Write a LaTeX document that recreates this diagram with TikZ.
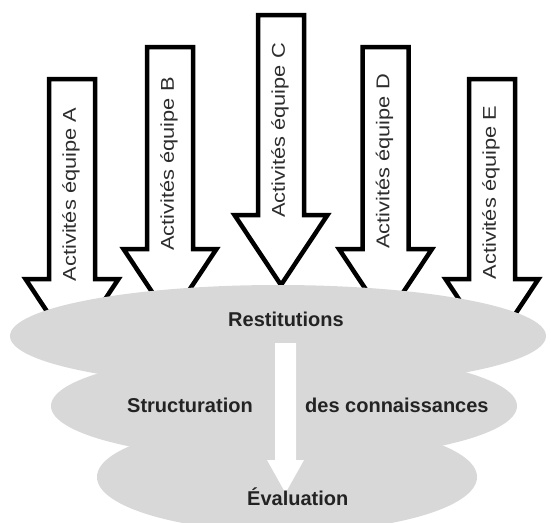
\documentclass[tikz,border=0pt]{standalone}
\usepackage{fontspec}
\setmainfont{Liberation Sans}
\definecolor{cloud}{RGB}{216,216,216}
\definecolor{labelgray}{RGB}{45,45,45}
\definecolor{textdark}{RGB}{35,35,35}
\tikzset{
  teamarrow/.style={draw=black, fill=white, line width=4.5pt, line join=miter, miter limit=10},
  cloudpart/.style={fill=cloud, draw=none},
  flowarrow/.style={fill=white, draw=none},
  teamlabel/.style={rotate=90, text=labelgray, inner sep=0pt, font=\fontsize{18.5}{20}\selectfont},
  cloudtext/.style={text=textdark, inner sep=0pt, font=\bfseries\fontsize{20}{22}\selectfont},
}
% #1 centre x, #2 top, #3 shoulder, #4 tip
\newcommand\teamarrowpath[4]{%
  \draw[teamarrow] (#1-23,#2) -- (#1+23,#2) -- (#1+23,#3) -- (#1+46.5,#3)
    -- (#1,#4) -- (#1-46.5,#3) -- (#1-23,#3) -- cycle;}
\begin{document}
\begin{tikzpicture}[x=1pt,y=-1pt]
\useasboundingbox (0,0) rectangle (551,522);
% team arrows
\teamarrowpath{72}{79}{279}{349}
\teamarrowpath{170}{47}{249}{319}
\teamarrowpath{281}{15}{215}{285}
\teamarrowpath{385.5}{47}{249}{319}
\teamarrowpath{492}{79}{279}{349}
\node[teamlabel] (labA) at (71,194.5) {\scalebox{1.18}[1]{Activités équipe A}};
\node[teamlabel] (labB) at (169,164) {\scalebox{1.18}[1]{Activités équipe B}};
\node[teamlabel] (labC) at (280,130.5) {\scalebox{1.18}[1]{Activités équipe C}};
\node[teamlabel] (labD) at (384.5,161.5) {\scalebox{1.18}[1]{Activités équipe D}};
\node[teamlabel] (labE) at (491,192.5) {\scalebox{1.18}[1]{Activités équipe E}};
% cloud
\begin{scope}
  \clip (0,0) rectangle (551,522);
  \fill[cloudpart] (278,336) ellipse [x radius=268pt, y radius=51pt];
  \fill[cloudpart] (284,406) ellipse [x radius=233pt, y radius=54pt];
  \fill[cloudpart] (287,477) ellipse [x radius=190pt, y radius=55pt];
\end{scope}
% inner flow arrow
\fill[flowarrow] (275,343) -- (296,343) -- (296,460) -- (304,460) -- (285.5,493)
  -- (267,460) -- (275,460) -- cycle;
% cloud texts
\node[cloudtext, anchor=base west] (rest) at (228,326) {Restitutions};
\node[cloudtext, anchor=base west] (struct) at (127,412) {Structuration};
\node[cloudtext, anchor=base west] (conn) at (305,412) {des connaissances};
\node[cloudtext, anchor=base west] (eval) at (247,505) {Évaluation};
\end{tikzpicture}
\end{document}
